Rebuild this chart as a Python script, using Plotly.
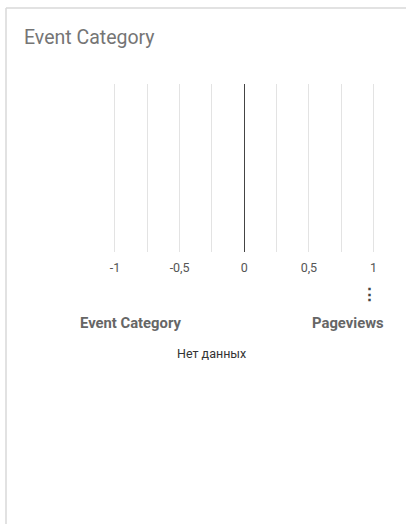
import plotly.graph_objects as go

# Data (the chart shows no data: "Нет данных")
categories = []
pageviews = []

tick_vals = [-1, -0.75, -0.5, -0.25, 0, 0.25, 0.5, 0.75, 1]
tick_text = ["-1", "", "-0,5", "", "0", "", "0,5", "", "1"]

W, H = 406, 524

def px(x):
    return x / W

def py(y):
    return 1 - y / H

# map -1 -> 115 px, 1 -> 373.5 px, with a tiny padding so edge gridlines draw
pad = 0.01
scale = (373.5 - 115) / 2.0
x_left = 115 - pad * scale
x_right = 373.5 + pad * scale

fig = go.Figure()
fig.add_trace(go.Bar(x=pageviews, y=categories, orientation="h",
                     marker_color="#4285f4", showlegend=False))

fig.update_layout(
    width=W, height=H,
    margin=dict(l=0, r=0, t=0, b=0),
    paper_bgcolor="white", plot_bgcolor="white",
    font=dict(family="Roboto", color="#555555"),
    xaxis=dict(
        domain=[px(x_left), px(x_right)],
        range=[-1 - pad, 1 + pad],
        tickmode="array", tickvals=tick_vals, ticktext=tick_text,
        showgrid=True, gridcolor="#e3e3e3", gridwidth=1,
        zeroline=True, zerolinecolor="#444444", zerolinewidth=1,
        showline=False, ticks="", ticklabelstandoff=6,
        tickfont=dict(size=12.5, color="#555555", family="Roboto"),
        automargin=False, fixedrange=True,
    ),
    yaxis=dict(
        domain=[py(252), py(84)],
        showgrid=False, zeroline=False, showticklabels=False,
        showline=False, ticks="", automargin=False, fixedrange=True,
    ),
    shapes=[
        dict(type="line", xref="paper", yref="paper",
             x0=px(6), x1=px(406), y0=py(8), y1=py(8),
             line=dict(color="#d9d9d9", width=1.5)),
        dict(type="line", xref="paper", yref="paper",
             x0=px(6), x1=px(6), y0=py(8), y1=py(524),
             line=dict(color="#d9d9d9", width=1.5)),
    ],
    annotations=[
        dict(text="Event Category", xref="paper", yref="paper",
             x=px(22), y=py(38), xanchor="left", yanchor="middle",
             showarrow=False, font=dict(size=19.5, color="#757575", family="Roboto")),
        dict(text="<b>⋮</b>", xref="paper", yref="paper",
             x=px(369), y=py(294), xanchor="center", yanchor="middle",
             showarrow=False, font=dict(size=17, color="#444444", family="Roboto")),
        dict(text="<b>Event Category</b>", xref="paper", yref="paper",
             x=px(78), y=py(323), xanchor="left", yanchor="middle",
             showarrow=False, font=dict(size=14.8, color="#666666", family="Roboto")),
        dict(text="<b>Pageviews</b>", xref="paper", yref="paper",
             x=px(386), y=py(323), xanchor="right", yanchor="middle",
             showarrow=False, font=dict(size=14.8, color="#666666", family="Roboto")),
        dict(text="Нет данных", xref="paper", yref="paper",
             x=px(211), y=py(353), xanchor="center", yanchor="middle",
             showarrow=False, font=dict(size=12.5, color="#333333", family="Roboto")),
    ],
)

fig.write_html("out.html", config={"displayModeBar": False},
               post_script="document.body.style.margin='0px';")
